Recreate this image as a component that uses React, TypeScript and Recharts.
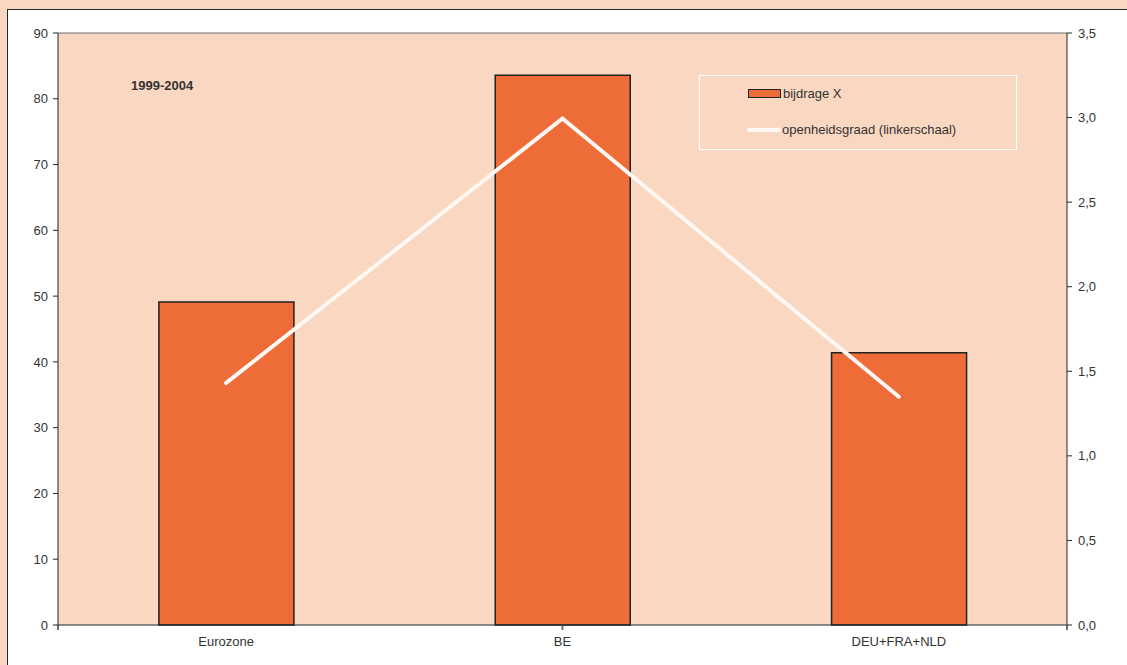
import React from "react";
import {
  ComposedChart,
  Bar,
  Line,
  XAxis,
  YAxis,
  CartesianGrid,
  ReferenceLine,
} from "recharts";

const categories = ["Eurozone", "BE", "DEU+FRA+NLD"];
const bijdrageX = [1.91, 3.25, 1.61];
const openheidsgraad = [36.8, 77.0, 34.7];
const leftTicks = [0, 10, 20, 30, 40, 50, 60, 70, 80, 90];
const rightTicks = [0, 0.5, 1, 1.5, 2, 2.5, 3, 3.5];
const edgeTicks = [0, 1, 2, 3];
const periodLabel = "1999-2004";

const data = categories.map((c, i) => ({
  name: c,
  bijdrage: bijdrageX[i],
  open: openheidsgraad[i],
}));

const PEACH = "#FAD7C0";
const BAR = "#EE6C38";
const TEXT = "#333333";
const FONT = "'Liberation Sans', Arial, sans-serif";

const LegendBox = () => (
  <div
    style={{
      position: "absolute",
      left: 699,
      top: 75,
      width: 318,
      height: 75,
      border: "1px solid #ffffff",
      boxSizing: "border-box",
      fontFamily: FONT,
      fontSize: 13,
      color: TEXT,
    }}
  >
    <div style={{ position: "absolute", left: 48, top: 10, display: "flex", alignItems: "center" }}>
      <div style={{ width: 31, height: 7, background: BAR, border: "1px solid #222" }} />
      <span style={{ marginLeft: 2 }}>bijdrage X</span>
    </div>
    <div style={{ position: "absolute", left: 47, top: 46, display: "flex", alignItems: "center" }}>
      <div style={{ width: 34, height: 4, background: "#FFF8F4", borderRadius: 2 }} />
      <span style={{ marginLeft: 1 }}>openheidsgraad (linkerschaal)</span>
    </div>
  </div>
);

export default function App() {
  return (
    <div
      style={{
        position: "fixed",
        left: 0,
        top: 0,
        width: 1127,
        height: 665,
        background: PEACH,
        overflow: "hidden",
      }}
    >
      <div
        style={{
          position: "absolute",
          left: 7,
          top: 9,
          width: 1140,
          height: 680,
          background: "#ffffff",
          border: "1px solid #1f2a2a",
        }}
      />
      <div style={{ position: "absolute", left: 0, top: 0 }}>
        <ComposedChart
          width={1127}
          height={665}
          data={data}
          margin={{ top: 33, right: 0, bottom: 10, left: 0 }}
          barCategoryGap="30%"
        >
          <CartesianGrid horizontal={false} vertical={false} fill={PEACH} stroke="none" />
          <XAxis
            dataKey="name"
            xAxisId="cat"
            height={30}
            tickLine={false}
            tickSize={6}
            tickMargin={6}
            axisLine={{ stroke: "#1f2a2a", strokeWidth: 1 }}
            tick={{ fill: TEXT, fontSize: 13, fontFamily: FONT }}
            interval={0}
          />
          <XAxis xAxisId="edge" type="number" domain={[0, 3]} ticks={edgeTicks} hide />
          <YAxis
            yAxisId="left"
            orientation="left"
            width={58}
            domain={[0, 90]}
            ticks={leftTicks}
            interval={0}
            tickSize={5}
            tickMargin={5}
            axisLine={{ stroke: "#1f2a2a" }}
            tickLine={{ stroke: "#1f2a2a" }}
            tick={{ fill: TEXT, fontSize: 13, fontFamily: FONT }}
          />
          <YAxis
            yAxisId="right"
            orientation="right"
            width={60}
            domain={[0, 3.5]}
            ticks={rightTicks}
            interval={0}
            tickSize={5}
            tickMargin={6}
            axisLine={{ stroke: "#1f2a2a" }}
            tickLine={{ stroke: "#1f2a2a" }}
            tick={{ fill: TEXT, fontSize: 13, fontFamily: FONT }}
            tickFormatter={(v: number) => v.toFixed(1).replace(".", ",")}
          />
          <ReferenceLine yAxisId="left" xAxisId="cat" y={90} stroke="#6a7070" strokeWidth={1} />
          {edgeTicks.map((t) => (
            <ReferenceLine
              key={t}
              xAxisId="edge"
              yAxisId="left"
              ifOverflow="visible"
              segment={[
                { x: t, y: 0 },
                { x: t, y: -0.75 },
              ]}
              stroke="#6a7070"
              strokeWidth={2}
            />
          ))}
          <Bar
            dataKey="bijdrage"
            xAxisId="cat"
            yAxisId="right"
            fill={BAR}
            stroke="#222222"
            strokeWidth={1.5}
            isAnimationActive={false}
          />
          <Line
            dataKey="open"
            xAxisId="cat"
            yAxisId="left"
            stroke="#FFF8F4"
            strokeWidth={4}
            strokeLinecap="round"
            strokeLinejoin="miter"
            dot={false}
            activeDot={false}
            isAnimationActive={false}
          />
        </ComposedChart>
      </div>
      <LegendBox />
      <div
        style={{
          position: "absolute",
          left: 131,
          top: 78,
          fontFamily: FONT,
          fontSize: 13,
          fontWeight: "bold",
          color: TEXT,
        }}
      >
        {periodLabel}
      </div>
    </div>
  );
}
